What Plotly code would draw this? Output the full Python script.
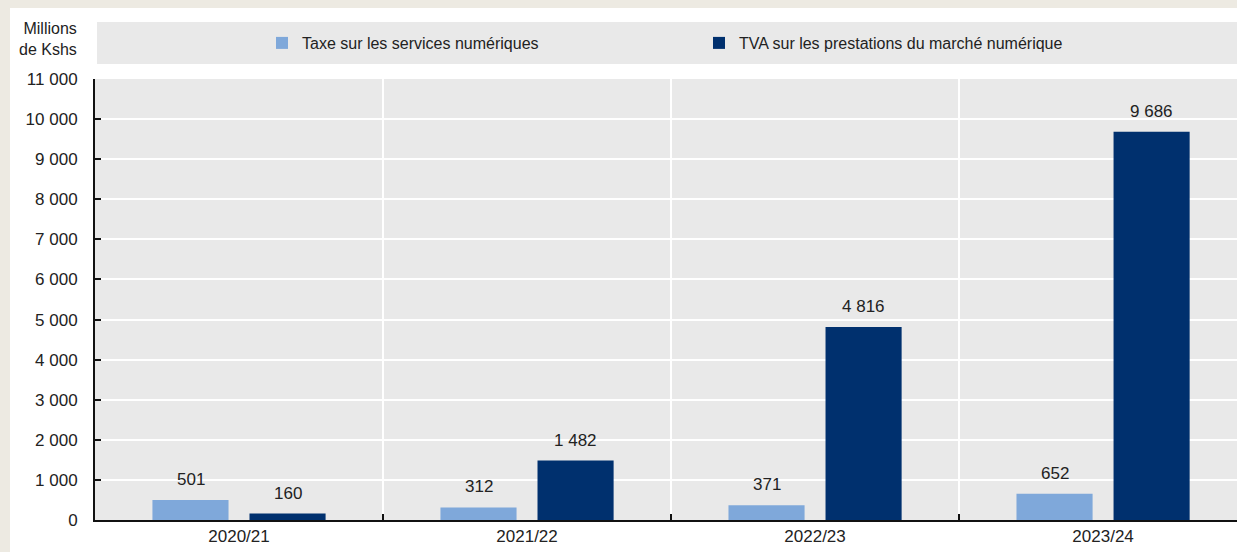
import plotly.graph_objects as go

categories = ["2020/21", "2021/22", "2022/23", "2023/24"]
dst_values = [501, 312, 371, 652]
vat_values = [160, 1482, 4816, 9686]
series_names = ["Taxe sur les services numériques",
                "TVA sur les prestations du marché numérique"]
y_ticks = list(range(0, 11001, 1000))

LIGHT = "#7FA8DA"
DARK = "#00306E"
PLOT_BG = "#E9E9E9"
BEIGE = "#EDEAE2"
FONT = "Liberation Sans Narrow, Arial Narrow, Liberation Sans, Arial, sans-serif"

W, H = 1237, 552
L, R, T, B = 95, 0, 79, 32
pw, ph = W - L - R, H - T - B

def fmt(v):
    return f"{v:,}".replace(",", " ")

fig = go.Figure()
fig.add_trace(go.Bar(x=categories, y=dst_values, name=series_names[0],
                     marker=dict(color=LIGHT, line=dict(width=0))))
fig.add_trace(go.Bar(x=categories, y=vat_values, name=series_names[1],
                     marker=dict(color=DARK, line=dict(width=0))))

offset = 48.5
annotations = []
for i, c in enumerate(categories):
    for v, dx in ((dst_values[i], -offset), (vat_values[i], offset)):
        annotations.append(dict(x=c, y=v, xref="x", yref="y", text=fmt(v),
                                showarrow=False, xshift=dx, yshift=9,
                                yanchor="bottom", xanchor="center",
                                font=dict(family=FONT, size=17, color="#222")))

annotations.append(dict(x=(79 - L) / pw, y=(H - B - 39) / ph, xref="paper", yref="paper",
                        text="Millions<br>de Kshs", showarrow=False, align="right",
                        xanchor="right", yanchor="middle",
                        font=dict(family=FONT, size=16, color="#222")))

def px_x(p):
    return (p - L) / pw

def px_y(p):
    return (H - B - p) / ph

shapes = [
    dict(type="rect", xref="paper", yref="paper", x0=px_x(0), x1=px_x(10),
         y0=px_y(H), y1=px_y(0), fillcolor=BEIGE, line=dict(width=0), layer="below"),
    dict(type="rect", xref="paper", yref="paper", x0=px_x(0), x1=px_x(W),
         y0=px_y(8), y1=px_y(0), fillcolor=BEIGE, line=dict(width=0), layer="below"),
    dict(type="rect", xref="paper", yref="paper", x0=px_x(97), x1=px_x(W),
         y0=px_y(64), y1=px_y(22), fillcolor=PLOT_BG, line=dict(width=0), layer="below"),
]

fig.update_layout(
    width=W, height=H, autosize=False,
    margin=dict(l=L, r=R, t=T, b=B, pad=0),
    paper_bgcolor="white", plot_bgcolor=PLOT_BG,
    separators=", ",
    font=dict(family=FONT, size=17, color="#222"),
    barmode="group", bargap=0.326, bargroupgap=0.216,
    showlegend=True,
    legend=dict(orientation="h", x=px_x(262), y=px_y(43), xanchor="left", yanchor="middle",
                bgcolor="rgba(0,0,0,0)", font=dict(family=FONT, size=16, color="#222"),
                entrywidth=392, entrywidthmode="pixels", itemwidth=30,
                traceorder="normal"),
    xaxis=dict(type="category", range=[-0.5, 3.465], tickson="boundaries",
               ticks="inside", ticklen=6, tickwidth=2, tickcolor="#111",
               showgrid=True, gridcolor="white", gridwidth=2,
               showline=True, linecolor="#111", linewidth=2,
               tickfont=dict(family=FONT, size=17, color="#222")),
    yaxis=dict(range=[0, 11000], tickvals=y_ticks, tickformat=",d",
               ticks="inside", ticklen=6, tickwidth=2, tickcolor="#111",
               showgrid=True, gridcolor="white", gridwidth=2,
               showline=True, linecolor="#111", linewidth=2,
               zeroline=False, ticklabelstandoff=12,
               tickfont=dict(family=FONT, size=17, color="#222")),
    annotations=annotations,
    shapes=shapes,
)

fig.write_html("out.html",
               config={"displayModeBar": False},
               post_script="document.body.style.margin='0';document.body.style.overflow='hidden';")
